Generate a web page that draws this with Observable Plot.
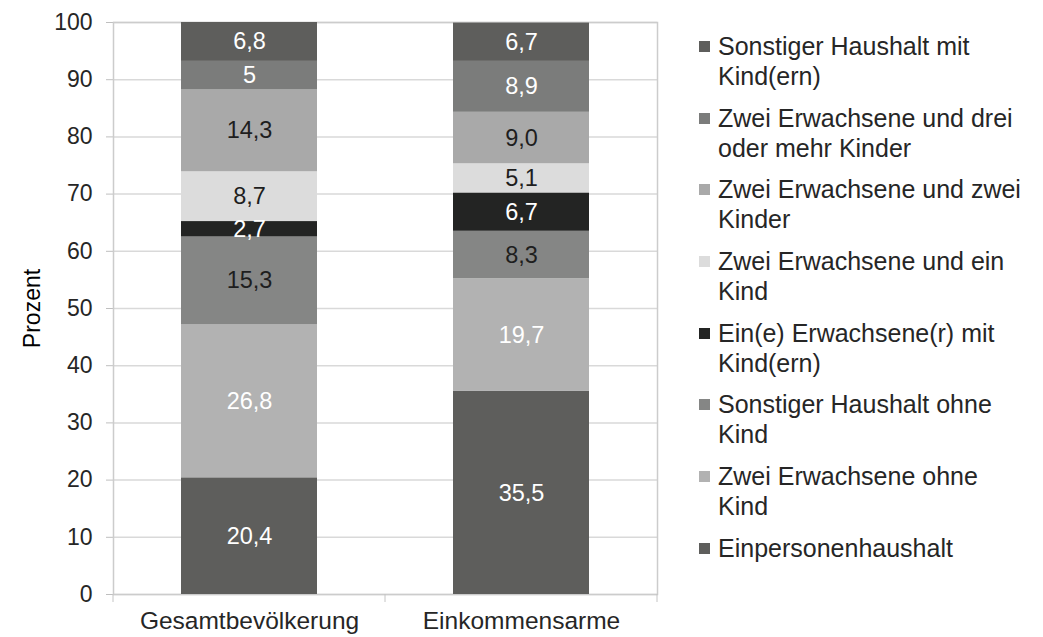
<!DOCTYPE html>
<html>
<head>
<meta charset="utf-8">
<script src="https://cdn.jsdelivr.net/npm/d3@7"></script>
<script src="https://cdn.jsdelivr.net/npm/@observablehq/plot@0.6"></script>
<style>
  html, body { margin: 0; padding: 0; background: #fff; }
  #wrap { position: relative; width: 1043px; height: 637px; font-family: "Liberation Sans", Arial, sans-serif; }
  #chart { position: absolute; left: 0; top: 0; }
  #legend { position: absolute; left: 699px; top: 31px; color: #262626; font-size: 25px; line-height: 30px; }
  .item { position: relative; padding-left: 19px; margin-bottom: 11.7px; white-space: pre-line; }
  .sw { position: absolute; left: 0; top: 10px; width: 11px; height: 11px; }
  g[aria-label="y-axis"] .tick line, g[aria-label="y-axis"] line { stroke: #bfbfbf; }
  g[aria-label="y-axis tick"] { color: #bfbfbf; }
  g[aria-label="x-axis"] text, g[aria-label="x-axis tick label"] text, g[aria-label="x-axis tick label"] { font-size: 24.5px; }
</style>
</head>
<body>
<div id="wrap"><div id="chart"></div><div id="legend"></div></div>
<script>
const groups = ["Gesamtbevölkerung", "Einkommensarme"];
// series from bottom to top of the stack
const series = [
  "Einpersonenhaushalt",
  "Zwei Erwachsene ohne Kind",
  "Sonstiger Haushalt ohne Kind",
  "Ein(e) Erwachsene(r) mit Kind(ern)",
  "Zwei Erwachsene und ein Kind",
  "Zwei Erwachsene und zwei Kinder",
  "Zwei Erwachsene und drei oder mehr Kinder",
  "Sonstiger Haushalt mit Kind(ern)"
];
const legendText = [
  "Einpersonenhaushalt",
  "Zwei Erwachsene ohne\nKind",
  "Sonstiger Haushalt ohne\nKind",
  "Ein(e) Erwachsene(r) mit\nKind(ern)",
  "Zwei Erwachsene und ein\nKind",
  "Zwei Erwachsene und zwei\nKinder",
  "Zwei Erwachsene und drei\noder mehr Kinder",
  "Sonstiger Haushalt mit\nKind(ern)"
];
const gesamtValues = [20.4, 26.8, 15.3, 2.7, 8.7, 14.3, 5, 6.8];
const gesamtLabels = ["20,4", "26,8", "15,3", "2,7", "8,7", "14,3", "5", "6,8"];
const armeValues = [35.5, 19.7, 8.3, 6.7, 5.1, 9.0, 8.9, 6.7];
const armeLabels = ["35,5", "19,7", "8,3", "6,7", "5,1", "9,0", "8,9", "6,7"];
const yTicks = [0, 10, 20, 30, 40, 50, 60, 70, 80, 90, 100];

const fills = ["#5e5e5c", "#b2b2b2", "#858685", "#232423", "#dcdcdc", "#a9a9a9", "#7b7c7b", "#5e5e5c"];
const textFills = ["#ffffff", "#ffffff", "#1e1e1e", "#ffffff", "#1e1e1e", "#1e1e1e", "#ffffff", "#ffffff"];

const data = [];
series.forEach((s, i) => data.push({group: groups[0], series: s, idx: i, value: gesamtValues[i], label: gesamtLabels[i]}));
series.forEach((s, i) => data.push({group: groups[1], series: s, idx: i, value: armeValues[i], label: armeLabels[i]}));

function boundaryTicks(index, scales, values, dimensions) {
  const x = scales.x;
  const step = x.step(), bw = x.bandwidth();
  const y0 = dimensions.height - dimensions.marginBottom;
  const xs = [dimensions.marginLeft]
    .concat(groups.slice(1).map(g => x(g) - (step - bw) / 2))
    .concat([dimensions.width - dimensions.marginRight]);
  const g = d3.create("svg:g");
  g.selectAll("line").data(xs).join("line")
    .attr("x1", d => d).attr("x2", d => d)
    .attr("y1", y0).attr("y2", y0 + 8)
    .attr("stroke", "#c4c4c4");
  return g.node();
}

const chart = Plot.plot({
  width: 670,
  height: 637,
  marginLeft: 113,
  marginRight: 13,
  marginTop: 22,
  marginBottom: 43,
  style: {fontFamily: "Liberation Sans, Arial, sans-serif", fontSize: "23px", color: "#262626", background: "#fff"},
  x: {domain: groups, paddingInner: 0.5, paddingOuter: 0.25, tickSize: 0, tickPadding: 17, label: null},
  y: {domain: [0, 100], ticks: yTicks, tickSize: 7, tickPadding: 14, label: null},
  color: {type: "identity"},
  marks: [
    Plot.ruleY(yTicks, {stroke: "#d9d9d9", strokeWidth: 1.5}),
    Plot.frame({stroke: "#cccccc", strokeWidth: 1.5}),
    Plot.barY(data, {x: "group", y: "value", fill: d => fills[d.idx]}),
    Plot.text(data, Plot.stackY({x: "group", y: "value", text: "label", fill: d => textFills[d.idx], fontSize: 23.5})),
    Plot.text(["Prozent"], {frameAnchor: "left", textAnchor: "middle", rotate: -90, dx: -81, fontSize: 23, fill: "#000"}),
    boundaryTicks
  ]
});
document.getElementById("chart").appendChild(chart);

const legend = document.getElementById("legend");
for (let i = series.length - 1; i >= 0; i--) {
  const item = document.createElement("div");
  item.className = "item";
  const sw = document.createElement("span");
  sw.className = "sw";
  sw.style.background = fills[i];
  item.appendChild(sw);
  item.appendChild(document.createTextNode(legendText[i]));
  legend.appendChild(item);
}
</script>
</body>
</html>
